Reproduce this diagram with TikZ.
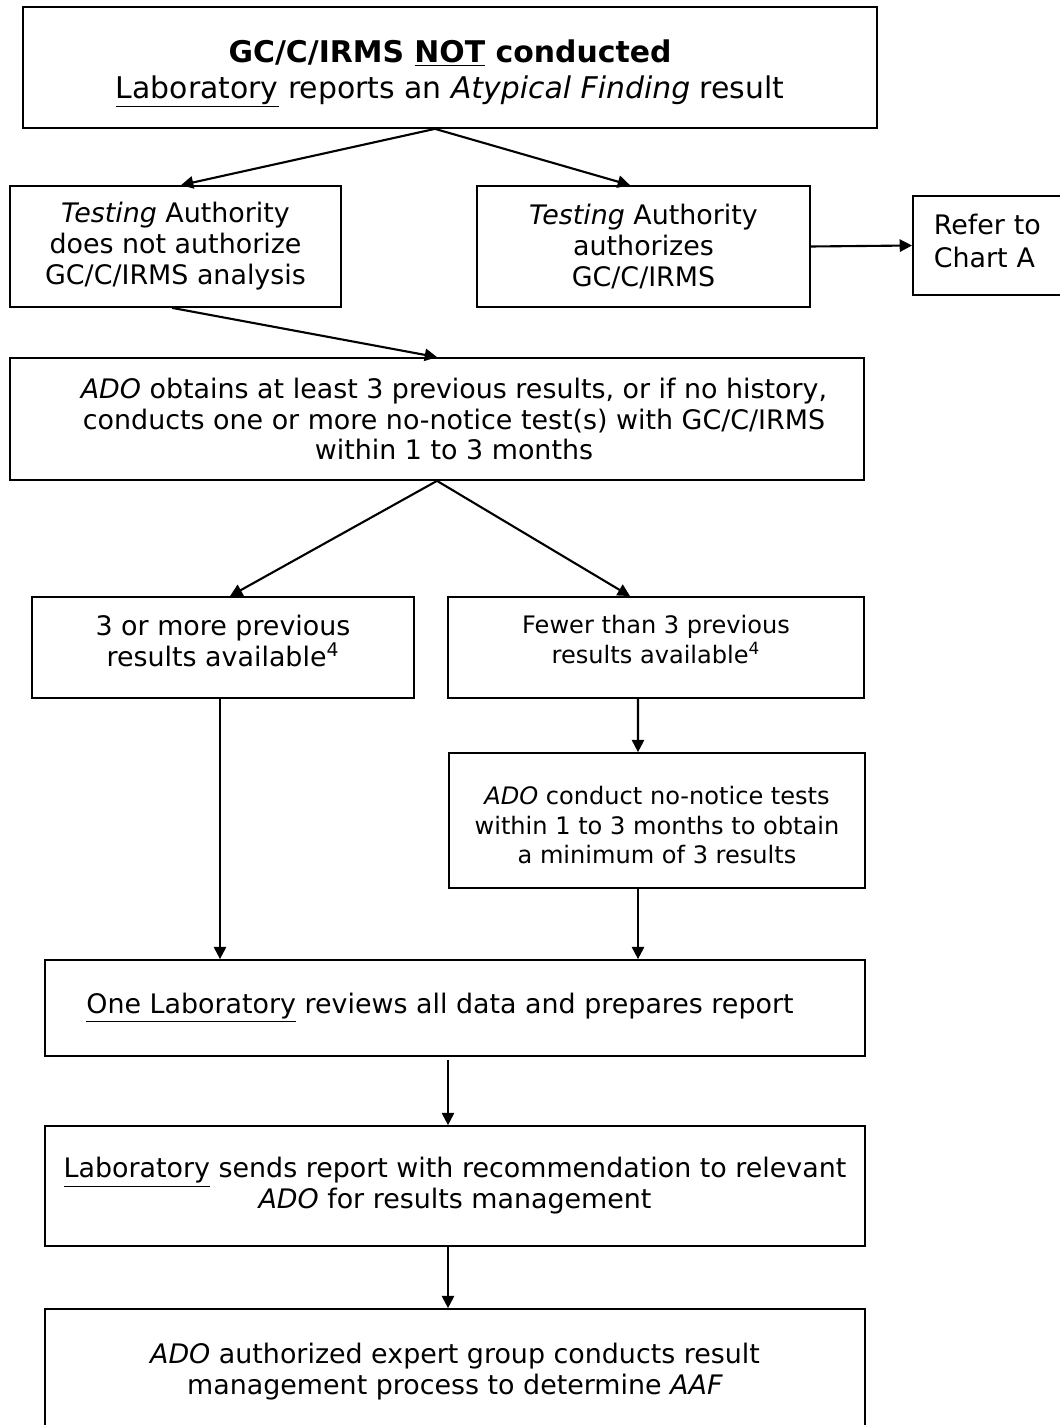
\documentclass[tikz,border=0pt]{standalone}
\usepackage{fontspec}
\setmainfont{DejaVu Sans}
\usetikzlibrary{arrows.meta}

\begin{document}
\begin{tikzpicture}[x=0.02cm,y=-0.02cm,
            box/.style={draw,rectangle,line width=1pt,align=center,inner sep=0pt,font={\fontsize{15.3}{17.6}\selectfont}},
            small/.style={font={\fontsize{13.7}{16.8}\selectfont}},
            arr/.style={-{Triangle[length=7pt,width=7pt]},line width=1.2pt}]
            \useasboundingbox (0,0) rectangle (1060,1425);

            \node (a) at (450,67.5) [box,minimum width=17.08cm,minimum height=2.42cm,font={\fontsize{17}{20.4}\selectfont}] {\rule{0pt}{20pt}\textbf{GC/C/IRMS \underline{NOT} conducted}\\\underline{Laboratory} reports an \textit{Atypical Finding} result};
            \node (b) at (175.5,246.5) [box,minimum width=6.62cm,minimum height=2.42cm] {\textit{Testing} Authority\\does not authorize\\GC/C/IRMS analysis};
            \node (c) at (643.5,246.5) [box,minimum width=6.66cm,minimum height=2.42cm] {\textit{Testing} Authority\\authorizes\\GC/C/IRMS};
            \node (d) at (912,245.5) [box,anchor=west,align=left,text width=2.4cm,inner xsep=0.42cm,minimum height=1.98cm,font={\fontsize{15.3}{19}\selectfont}] {Refer to\\Chart A\rule[-5.7pt]{0pt}{0pt}};
            \node (e) at (437,419) [box,minimum width=17.08cm,minimum height=2.44cm] {\rule{0.68cm}{0pt}\textit{ADO} obtains at least 3 previous results, or if no history,\\\rule{0.68cm}{0pt}conducts one or more no-notice test(s) with GC/C/IRMS\\\rule{0.68cm}{0pt}within 1 to 3 months};
            \node (f) at (223,647.5) [box,minimum width=7.64cm,minimum height=2.02cm] {3 or more previous\\results available\textsuperscript{4}\rule[-8pt]{0pt}{0pt}};
            \node (g) at (656,647.5) [box,small,minimum width=8.32cm,minimum height=2.02cm] {Fewer than 3 previous\\results available\textsuperscript{4}\rule[-9pt]{0pt}{0pt}};
            \node (h) at (657,820.5) [box,small,minimum width=8.32cm,minimum height=2.7cm] {\rule{0pt}{16pt}\textit{ADO} conduct no-notice tests\\within 1 to 3 months to obtain\\a minimum of 3 results};
            \node (i) at (455,1008) [box,minimum width=16.4cm,minimum height=1.92cm] {\underline{One Laboratory} reviews all data and prepares report\rule{0.6cm}{0pt}};
            \node (j) at (455,1186) [box,minimum width=16.4cm,minimum height=2.4cm] {\underline{Laboratory} sends report with recommendation to relevant\\\textit{ADO} for results management};
            \node (k) at (455,1372) [box,minimum width=16.4cm,minimum height=2.52cm] {\textit{ADO} authorized expert group conducts result\\management process to determine \textit{AAF}};

            \draw[arr] ([xshift=-0.3cm]a.south) -- ([xshift=0.11cm]b.north);
            \draw[arr] ([xshift=-0.3cm]a.south) -- ([xshift=-0.27cm]c.north);
            \draw[arr] (c.east) -- (d.west);
            \draw[arr] ([xshift=-0.07cm]b.south) -- (e.north);
            \draw[arr] (e.south) -- ([xshift=0.14cm]f.north);
            \draw[arr] (e.south) -- ([xshift=-0.52cm]g.north);
            \draw[arr] ([xshift=-0.06cm]f.south) -- ([xshift=-0.06cm]f.south |- i.north);
            \draw[arr] ([xshift=-0.36cm]g.south) -- ([xshift=-0.38cm]h.north);
            \draw[arr] ([xshift=-0.38cm]h.south) -- ([xshift=-0.38cm]h.south |- i.north);
            \draw[arr] ([xshift=-0.14cm,yshift=-0.06cm]i.south) -- ([xshift=-0.14cm]j.north);
            \draw[arr] ([xshift=-0.14cm]j.south) -- ([xshift=-0.14cm]k.north);

        \end{tikzpicture}
\end{document}
